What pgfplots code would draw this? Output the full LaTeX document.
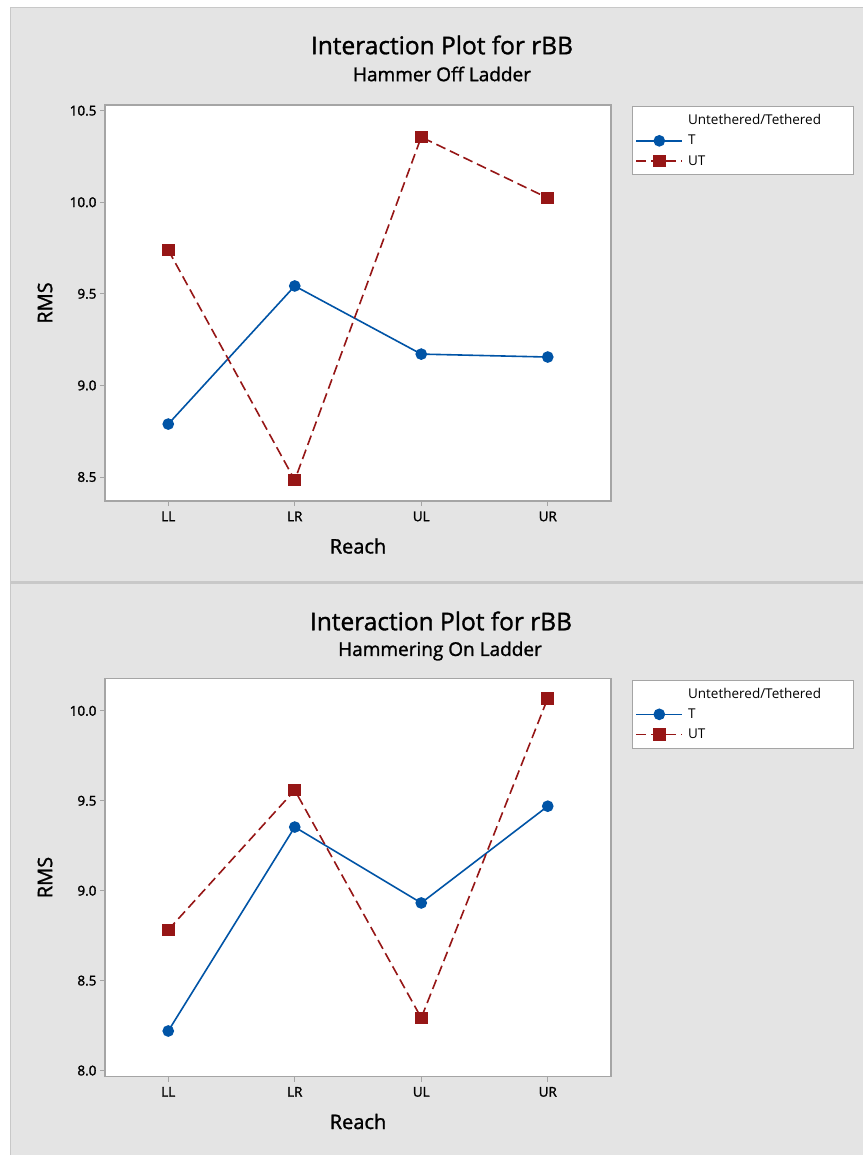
\documentclass[border=0pt]{standalone}
\usepackage{fontspec}
\setmainfont{Open Sans}
\newfontfamily\osemi[FakeBold=1.3]{Open Sans}
\newfontfamily\otick[FakeBold=1.8]{Open Sans}
\usepackage{pgfplots}
\usepackage{pgfplotstable}
\pgfplotsset{compat=1.18}
\definecolor{bg}{RGB}{228,228,228}
\definecolor{bd}{RGB}{200,200,200}
\definecolor{mtblue}{RGB}{0,84,166}
\definecolor{mtred}{RGB}{150,22,22}
\definecolor{framec}{RGB}{165,165,165}

\pgfplotstableread{
x T UT
0 8.789 9.739
1 9.543 8.483
2 9.171 10.356
3 9.155 10.023
}\offdata
\pgfplotstableread{
x T UT
0 8.220 8.782
1 9.354 9.559
2 8.932 8.293
3 9.470 10.070
}\ondata

\pgfplotsset{
 ip/.style={
  scale only axis, width=506pt,
  xmin=-0.5, xmax=3.5,
  xtick={0,1,2,3}, xticklabels={LL,LR,UL,UR},
  axis line style={framec, line width=1.3pt},
  tick style={framec, line width=1pt},
  tick align=outside, major tick length=5pt,
  xtick pos=bottom, ytick pos=left,
  axis background/.style={fill=white},
  ticklabel style={font=\otick\fontsize{13.5}{15}\selectfont},
  xticklabel style={yshift=-2pt},
  /pgf/number format/assume math mode=true,
  yticklabel style={/pgf/number format/.cd, fixed, fixed zerofill, precision=1},
  xlabel={Reach}, ylabel={RMS},
  xlabel style={font=\osemi\fontsize{20}{22}\selectfont, at={(rel axis cs:0.5,0)}, anchor=center, yshift=-45pt},
  ylabel style={font=\osemi\fontsize{20}{22}\selectfont, at={([xshift=-60pt]rel axis cs:0,0.5)}, anchor=center},
  legend style={at={(rel axis cs:1,1)}, anchor=north west, xshift=21pt, yshift=-1pt,
    draw=framec, line width=1pt, fill=white,
    font=\fontsize{13.5}{15}\selectfont, inner xsep=3pt, inner ysep=6pt, row sep=5pt, column sep=3pt},
  legend cell align=left,
  legend image code/.code={\draw[mark repeat=2,mark phase=2,#1] plot coordinates {(0pt,0pt)(23pt,0pt)(46pt,0pt)};},
 },
 tline/.style={mtblue, line width=1.6pt, mark=*, mark size=5pt, mark options={solid}},
 uline/.style={mtred, line width=1.6pt, dash pattern=on 10pt off 5pt, mark=square*, mark size=5.5pt, mark options={solid}},
}

\begin{document}
\begin{tikzpicture}
\fill[white] (0pt,0pt) rectangle (863pt,-1155pt);
\fill[bg] (10pt,-7pt) rectangle (863pt,-581pt);
\fill[bg] (10pt,-584pt) rectangle (863pt,-1155pt);
\draw[bd, line width=1pt] (10.5pt,-1155pt) -- (10.5pt,-7.5pt) -- (863pt,-7.5pt);
\fill[bd] (10pt,-580.5pt) rectangle (863pt,-583.5pt);

\node[font=\osemi\fontsize{24.5}{27}\selectfont] at (442pt,-45pt) {Interaction Plot for rBB};
\node[font=\osemi\fontsize{19}{22}\selectfont] at (442pt,-74pt) {Hammer Off Ladder};
\node[font=\osemi\fontsize{24.5}{27}\selectfont] at (441pt,-621pt) {Interaction Plot for rBB};
\node[font=\osemi\fontsize{19}{22}\selectfont] at (440pt,-651pt) {Hammering On Ladder};

\begin{axis}[ip, at={(105pt,-105pt)}, anchor=north west, height=396pt,
  ymin=8.369, ymax=10.531, ytick={8.5,9.0,9.5,10.0,10.5}]
\addlegendimage{empty legend}
\addlegendentry{\makebox[160pt][l]{Untethered/Tethered}}
\addplot[tline] table[x=x, y=T] {\offdata};
\addlegendentry{T}
\addplot[uline] table[x=x, y=UT] {\offdata};
\addlegendentry{UT}
\end{axis}

\begin{axis}[ip, at={(105pt,-678.5pt)}, anchor=north west, height=398pt,
  ymin=7.967, ymax=10.18, ytick={8.0,8.5,9.0,9.5,10.0}]
\addlegendimage{empty legend}
\addlegendentry{\makebox[160pt][l]{Untethered/Tethered}}
\addplot[tline] table[x=x, y=T] {\ondata};
\addlegendentry{T}
\addplot[uline] table[x=x, y=UT] {\ondata};
\addlegendentry{UT}
\end{axis}

\pgfresetboundingbox
\useasboundingbox (0pt,0pt) rectangle (863pt,-1155pt);
\end{tikzpicture}
\end{document}
